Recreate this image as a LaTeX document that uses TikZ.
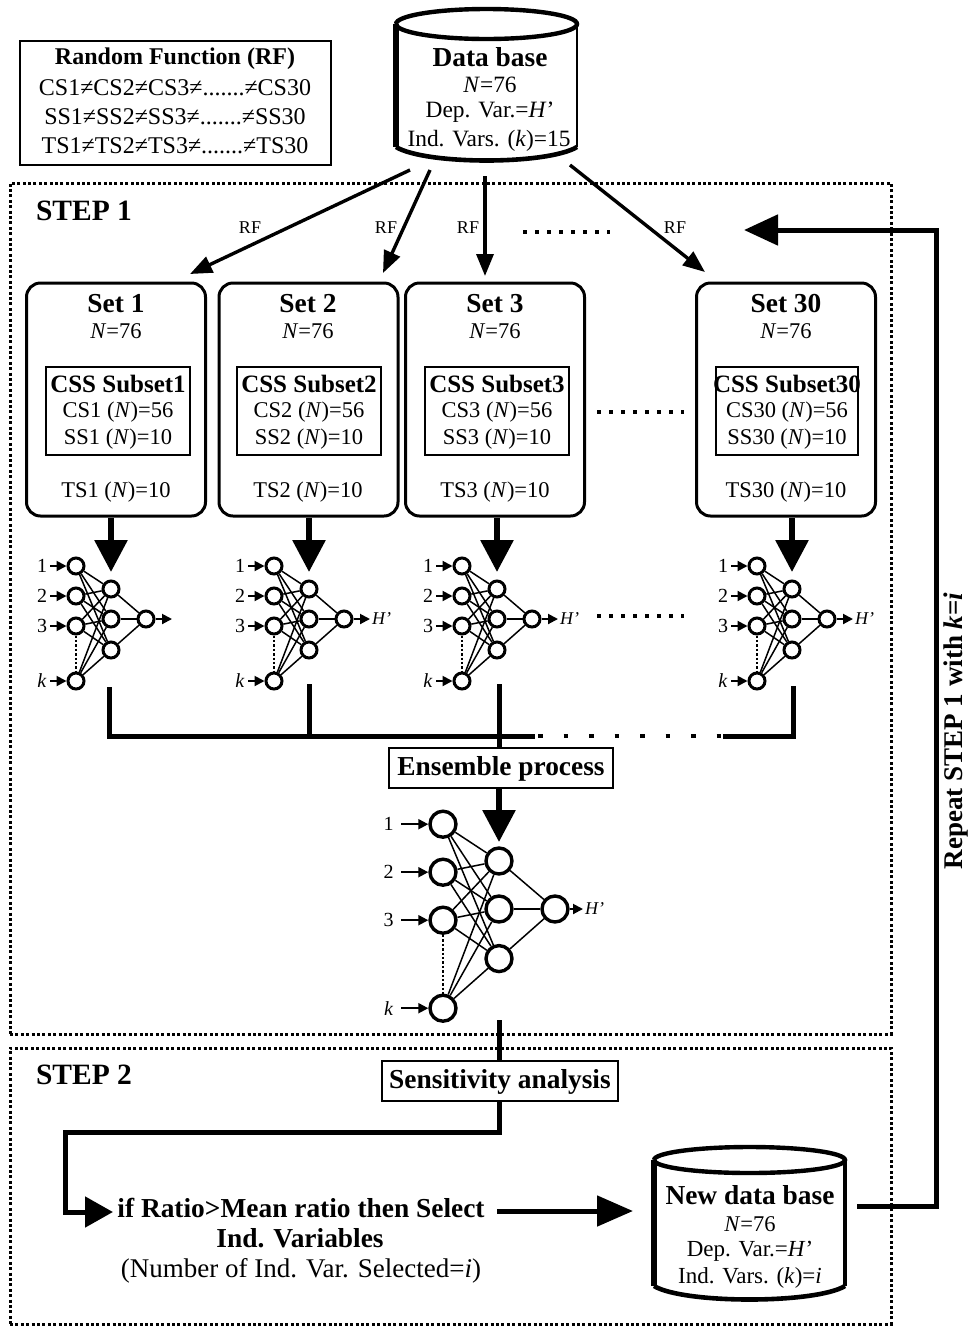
\documentclass[tikz,border=0pt]{standalone}
\usepackage{fontspec}
\setmainfont{Liberation Serif}
\usetikzlibrary{arrows.meta}
\newcommand{\fs}[1]{\fontsize{#1}{#1}\selectfont}
\tikzset{
  txt/.style={inner sep=0pt,font=\fs{22.5}},
  btxt/.style={inner sep=0pt,font=\fs{27.4}\bfseries},
  rftxt/.style={inner sep=0pt,font=\fs{18}},
  setbox/.style={draw,line width=3pt,rounded corners=14pt,minimum width=179pt,minimum height=233pt,inner sep=0pt},
  subbox/.style={draw,line width=2pt,minimum height=88pt,inner sep=0pt},
  procbox/.style={draw,line width=2pt,minimum height=40pt,inner sep=0pt,font=\fs{27.4}\bfseries},
  stepframe/.style={draw,line width=3pt,dash pattern=on 3pt off 2.4pt,minimum width=881pt,inner sep=0pt},
  thin arrow/.style={line width=3.4pt,-{Triangle[width=17pt,length=22pt]}},
  big arrow/.style={line width=6pt,-{Triangle[width=32pt,length=32pt]}},
  heavy/.style={line width=5pt},
  neuron/.style={circle,draw,inner sep=0pt,fill=white},
  edge/.style={line width=1.5pt},
  inarrow/.style={line width=2pt,-{Triangle[width=10pt,length=10pt]}},
  dotline/.style={line width=4.5pt,dash pattern=on 4.5pt off 21pt},
  smalldots/.style={line width=3.6pt,dash pattern=on 3.6pt off 8.4pt},
}
% #1 prefix, #2 hidden-centre x, #3 y, #4 scale, #5 diameter, #6 font size, #7 output label, #8 output arrow end, #9 ring width
\newcommand{\nnet}[9]{%
 \begin{scope}[shift={(#2,#3)},x=#4pt,y=-#4pt,neuron/.append style={line width=#9pt}]
  \foreach \n/\yy/\l in {a/-53/1,b/-23/2,c/7/3,d/62/\textit{k}}{
    \node[neuron,minimum size=#5pt] (#1\n) at (-35,\yy) {};
    \node[inner sep=0pt,font=\fs{#6}] (#1l\n) at (-69,\yy) {\l};
    \coordinate (#1s\n) at (-61,\yy);
    \draw[inarrow] (#1s\n) -- (#1\n);
  }
  \foreach \n/\yy in {p/-30,q/0,r/31}{
    \node[neuron,minimum size=#5pt] (#1\n) at (0,\yy) {};
  }
  \node[neuron,minimum size=#5pt] (#1o) at (35,0) {};
  \foreach \u in {a,b,c,d}\foreach \v in {p,q,r}{\draw[edge] (#1\u) -- (#1\v);}
  \foreach \v in {p,q,r}{\draw[edge] (#1\v) -- (#1o);}
  \draw[line width=2.4pt,dash pattern=on 2.4pt off 2pt] (#1c) -- (#1d);
  \coordinate (#1e) at (#8,0);
  \draw[inarrow] (#1o) -- (#1e);
  \node[anchor=west,inner sep=0pt,xshift=2pt,font=\fs{18}\itshape] (#1h) at (#8,0) {#7};
 \end{scope}}
% cylinder: #1 name, #2 left, #3 right, #4 top-ellipse centre y, #5 ellipse ry, #6 side-bottom y, #7 right-side width
\newcommand{\dbshape}[7]{%
  \pgfmathsetmacro{\cx}{(#2+#3)/2}\pgfmathsetmacro{\rx}{(#3-#2)/2}
  \draw[line width=4.4pt,fill=white] (#2,#4) arc[start angle=180,end angle=540,x radius=\rx,y radius=#5];
  \draw[line width=4.6pt] (#2,#6) .. controls (#2+30,#6+18) and (#3-30,#6+18) .. (#3,#6);
  \draw[line width=6pt] (#2,#4) -- (#2,#6);
  \draw[line width=#7pt] (#3,#4) -- (#3,#6);
  \node[minimum width=#3pt-#2pt,minimum height=#6pt-#4pt,inner sep=0pt] (#1) at (\cx,{(#4+#6)/2}) {};
}
\begin{document}
\begin{tikzpicture}[x=1pt,y=-1pt]
\useasboundingbox (0,0) rectangle (969,1326);
% frames
\node[stepframe,minimum height=851pt] (stepA) at (450.5,608.5) {};
\node[stepframe,minimum height=276pt] (stepB) at (450.5,1186) {};
\node[btxt,font=\fs{29.5}\bfseries] (stepAt) at (84,211) {STEP 1};
\node[btxt,font=\fs{29.5}\bfseries] (stepBt) at (84,1075) {STEP 2};
% RF box
\node[draw,line width=2pt,minimum width=311pt,minimum height=124pt,inner sep=0pt] (rfbox) at (175.5,103) {};
\node[btxt,font=\fs{24}\bfseries] (rf0) at (175,59) {Random Function (RF)};
\node[txt,font=\fs{24}] (rf1) at (175,88) {CS1≠CS2≠CS3≠.......≠CS30};
\node[txt,font=\fs{24}] (rf2) at (175,117) {SS1≠SS2≠SS3≠.......≠SS30};
\node[txt,font=\fs{24}] (rf3) at (175,146) {TS1≠TS2≠TS3≠.......≠TS30};
% data base
\dbshape{db}{396}{577}{24}{15}{147}{2.4}
\node[btxt] (db0) at (490,57) {Data base};
\node[txt,font=\fs{23.4}] (db1) at (490,85) {\textit{N}=76};
\node[txt,font=\fs{23.4}] (db2) at (490,112) {Dep. Var.=\textit{H}’};
\node[txt,font=\fs{23.4}] (db3) at (489,141) {Ind. Vars. (\textit{k})=15};
% sets
\foreach \id/\cx/\tx/\sx/\sw/\lbl/\nm in {
  a/116/116/118/144/1/1,
  b/308.5/308/309/144/2/2,
  c/495/495/497/144/3/3,
  d/786/786/787/142/30/30}{
  \node[setbox] (set\id) at (\cx,399.5) {};
  \node[subbox,minimum width=\sw pt] (sub\id) at (\sx,411) {};
  \node[btxt] (set\id t) at (\tx,304) {Set \lbl};
  \node[txt] (set\id n) at (\tx,331) {\textit{N}=76};
  \node[btxt,font=\fs{25}\bfseries] (sub\id t) at (\sx,384) {CSS Subset\lbl};
  \node[txt] (sub\id c) at (\sx,412) {CS\lbl{} (\textit{N})=56};
  \node[txt] (sub\id s) at (\sx,439) {SS\lbl{} (\textit{N})=10};
  \node[txt] (set\id s) at (\tx,492) {TS\lbl{} (\textit{N})=10};
}
% db -> sets
\coordinate (d1) at (410,170); \coordinate (t1) at (190,274);
\coordinate (d2) at (430,170); \coordinate (t2) at (383,273);
\coordinate (d3) at (485,176); \coordinate (t3) at (485,276);
\coordinate (d4) at (570,165); \coordinate (t4) at (705,272);
\draw[thin arrow] (d1) -- (t1);
\draw[thin arrow] (d2) -- (t2);
\draw[thin arrow] (d3) -- (t3);
\draw[thin arrow] (d4) -- (t4);
\node[rftxt] (rfa) at (250,228) {RF};
\node[rftxt] (rfb) at (386,228) {RF};
\node[rftxt] (rfc) at (468,228) {RF};
\node[rftxt] (rfd) at (675,228) {RF};
\coordinate (dA0) at (523,232); \coordinate (dA1) at (610,232);
\draw[smalldots] (dA0) -- (dA1);
\coordinate (dB0) at (597,412); \coordinate (dB1) at (684,412);
\draw[smalldots] (dB0) -- (dB1);
\coordinate (dC0) at (597,616); \coordinate (dC1) at (684,616);
\draw[smalldots] (dC0) -- (dC1);
% networks
\nnet{na}{111}{619}{1}{16}{20}{}{61}{3}
\nnet{nb}{309}{619}{1}{16}{20}{H’}{61}{3}
\nnet{nc}{497}{619}{1}{16}{20}{H’}{61}{3}
\nnet{nd}{792}{619}{1}{16}{20}{H’}{61}{3}
\nnet{ne}{499}{909}{1.6}{26}{20}{H’}{52.5}{3.4}
% big arrows
\coordinate (ta) at (111,572); \coordinate (tb) at (309,572);
\coordinate (tc) at (497,572); \coordinate (td) at (792,572);
\draw[big arrow] (seta.south -| ta) -- (ta);
\draw[big arrow] (setb.south -| tb) -- (tb);
\draw[big arrow] (setc.south -| tc) -- (tc);
\draw[big arrow] (setd.south -| td) -- (td);
% collector
\node[procbox,minimum width=224pt,fill=white] (ens) at (501,768) {};
\node[btxt] (enst) at (501,769) {Ensemble process};
\node[procbox,minimum width=236pt,fill=white] (sens) at (500,1081) {};
\node[btxt] (senst) at (500,1082) {Sensitivity analysis};
\coordinate (ca) at (109,687); \coordinate (cb) at (309,684);
\coordinate (cc) at (499,684); \coordinate (cd) at (793,686);
\coordinate (busA) at (535,736); \coordinate (busB) at (723,736);
\coordinate (busC) at (538,736); \coordinate (busD) at (722,736);
\draw[heavy] (ca) |- (busA);
\draw[heavy] (cb) -- (cb |- busA);
\draw[heavy] (cc) -- (cc |- ens.north);
\draw[heavy] (busB) -| (cd);
\draw[dotline] (busC) -- (busD);
\coordinate (te) at (499,842);
\draw[big arrow] (ens.south -| te) -- (te);
\coordinate (oe) at (499,1020);
\draw[heavy] (oe) -- (oe |- sens.north);
% step 2
\node[btxt] (if1) at (301,1208) {if Ratio>Mean ratio then Select};
\node[btxt] (if2) at (300,1238) {Ind. Variables};
\node[txt,font=\fs{27}] (if3) at (301,1271) {(Number of Ind. Var. Selected=\textit{i})};
\coordinate (s1) at (499,1101); \coordinate (s2) at (499,1132);
\coordinate (s3) at (65,1132); \coordinate (s4) at (113,1212);
\draw[line width=5pt,-{Triangle[width=30pt,length=28pt]}] (s1) -- (s2) -- (s3) |- (s4);
\coordinate (o1) at (497,1211); \coordinate (o2) at (633,1211);
\draw[line width=5pt,-{Triangle[width=30pt,length=36pt]}] (o1) -- (o2);
% new db
\dbshape{ndb}{654}{845}{1160}{13}{1286}{4}
\node[btxt] (n0) at (750,1195) {New data base};
\node[txt] (n1) at (750,1224) {\textit{N}=76};
\node[txt,font=\fs{23}] (n2) at (750,1251) {Dep. Var.=\textit{H}’};
\node[txt,font=\fs{23}] (n3) at (750,1278) {Ind. Vars. (\textit{k})=\textit{i}};
% repeat
\coordinate (r1) at (857,1206); \coordinate (r2) at (936,1206);
\coordinate (r3) at (936,230); \coordinate (r4) at (744,230);
\draw[line width=5pt,-{Triangle[width=30pt,length=34pt]}] (r1) -- (r2) -- (r3) -- (r4);
\node[btxt,font=\fs{27}\bfseries,rotate=90] (rep) at (956,731) {Repeat STEP 1 with \textit{k}=\textit{i}};
\end{tikzpicture}
\end{document}
